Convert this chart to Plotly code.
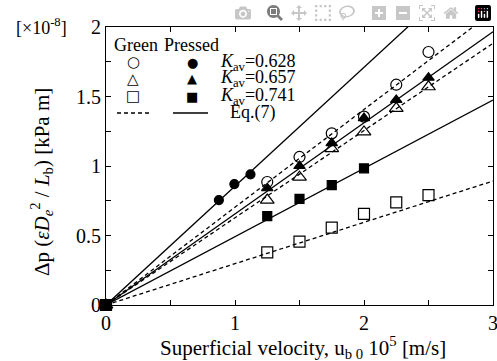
import plotly.graph_objects as go

# ---- data ----
pressed_628_x = [0, 0.875, 0.995, 1.12]
pressed_628_y = [0, 0.755, 0.87, 0.94]
green_628_x = [0, 1.25, 1.5, 1.75, 2.0, 2.25, 2.5]
green_628_y = [0, 0.885, 1.065, 1.235, 1.355, 1.585, 1.82]
pressed_657_x = [0, 1.25, 1.5, 1.75, 2.0, 2.25, 2.5]
pressed_657_y = [0, 0.84, 1.0, 1.165, 1.345, 1.475, 1.635]
green_657_x = [0, 1.25, 1.5, 1.75, 2.0, 2.25, 2.5]
green_657_y = [0, 0.755, 0.92, 1.125, 1.245, 1.415, 1.57]
pressed_741_x = [0, 1.25, 1.5, 1.75, 2.0]
pressed_741_y = [0, 0.64, 0.763, 0.863, 0.983]
green_741_x = [0, 1.25, 1.5, 1.75, 2.0, 2.25, 2.5]
green_741_y = [0, 0.379, 0.456, 0.556, 0.655, 0.739, 0.791]

# Eq.(7) lines: through origin, value at x = 3
line_x = [0, 3]
eq_pressed_628_end = 2.565
eq_green_628_end = 2.11
eq_pressed_657_end = 1.966
eq_green_657_end = 1.883
eq_pressed_741_end = 1.475
eq_green_741_end = 0.892

x_tick_vals = [0, 1, 2, 3]
x_tick_text = ["0", "1", "2", "3"]
y_tick_vals = [0, 0.5, 1, 1.5, 2]
y_tick_text = ["0", "0.5", "1", "1.5", "2"]

FONT = "Liberation Serif, Times New Roman, serif"
DASH = "4px,3px"

fig = go.Figure()

lines = [
    (eq_pressed_628_end, "solid"),
    (eq_green_628_end, DASH),
    (eq_pressed_657_end, "solid"),
    (eq_green_657_end, DASH),
    (eq_pressed_741_end, "solid"),
    (eq_green_741_end, DASH),
]
for end, dash in lines:
    fig.add_trace(go.Scatter(x=line_x, y=[0, end], mode="lines",
                             line=dict(color="black", width=1.3, dash=dash),
                             showlegend=False, hoverinfo="skip"))

markers = [
    (green_628_x, green_628_y, "circle-open", 11),
    (green_657_x, green_657_y, "triangle-up-open", 12),
    (green_741_x, green_741_y, "square-open", 11),
    (pressed_628_x, pressed_628_y, "circle", 9),
    (pressed_657_x, pressed_657_y, "triangle-up", 10),
    (pressed_741_x, pressed_741_y, "square", 9),
]
for xs, ys, sym, sz in markers:
    fig.add_trace(go.Scatter(x=xs, y=ys, mode="markers",
                             marker=dict(symbol=sym, size=sz, color="black",
                                         line=dict(color="black", width=1.2)),
                             showlegend=False, cliponaxis=False))

# ---- page-pixel helpers (plot area in page pixels) ----
L, R, T, B = 106.0, 493.0, 27.0, 305.0
def px(x):
    return (x - L) / (R - L)
def py(y):
    return (B - y) / (B - T)

ann = []
def add_text(x, y, text, size=18, xanchor="center", family=FONT, angle=0):
    ann.append(dict(x=px(x), y=py(y), xref="paper", yref="paper", text=text,
                    showarrow=False, xanchor=xanchor, yanchor="middle", textangle=angle,
                    font=dict(family=family, size=size, color="black")))

# legend
add_text(136, 45, "Green")
add_text(191, 45, "Pressed")
rows = [(62, "○", "●", "0.628"), (79, "△", "▲", "0.657"), (96, "□", "■", "0.741")]
for y, o, f, k in rows:
    add_text(133, y, o, size=15, family="DejaVu Sans")
    add_text(192, y, f, size=13, family="DejaVu Sans")
    add_text(218, y, "<i>K</i><sub>av</sub>=" + k, xanchor="left")
add_text(228, 113, "Eq.(7)", xanchor="left")

# multiplier
add_text(14, 26, "[×10<sup>-8</sup>]", xanchor="left")

# axis titles
add_text(303, 347, "Superficial velocity, u<sub>b 0</sub> 10<sup>5</sup> [m/s]", size=21)
add_text(41, 182, "Δp (<i>εD</i><sub><i>e</i></sub><sup>2</sup> / <i>L</i><sub>b</sub>) [kPa m]",
         size=21, angle=-90)

fig.update_layout(annotations=ann)
fig.add_shape(type="line", xref="paper", yref="paper", x0=px(117), x1=px(152),
              y0=py(113), y1=py(113), line=dict(color="black", width=1.3, dash=DASH))
fig.add_shape(type="line", xref="paper", yref="paper", x0=px(173), x1=px(208),
              y0=py(113), y1=py(113), line=dict(color="black", width=1.3))

axis_common = dict(showgrid=False, zeroline=False, showline=True, linecolor="black",
                   linewidth=1.2, mirror="allticks", ticks="inside", ticklen=5,
                   tickcolor="black", tickwidth=1.2, automargin=False,
                   ticklabeloverflow="allow",
                   tickfont=dict(family=FONT, size=20, color="black"))

fig.update_xaxes(range=[0, 3], tickvals=x_tick_vals, ticktext=x_tick_text,
                 minor=dict(dtick=0.5, ticks="inside", ticklen=5, tickcolor="black", tickwidth=1.2),
                 **axis_common)
fig.update_yaxes(range=[0, 2], tickvals=y_tick_vals, ticktext=y_tick_text,
                 minor=dict(dtick=0.25, ticks="inside", ticklen=5, tickcolor="black", tickwidth=1.2),
                 **axis_common)

fig.update_layout(width=497, height=361, margin=dict(l=106, r=4, t=27, b=56),
                  paper_bgcolor="white", plot_bgcolor="white", showlegend=False)

# remove the default 8px page margin so the figure fills the window exactly
fig.write_html("out.html",
               post_script="document.body.style.margin='0';document.body.style.overflow='hidden';")
